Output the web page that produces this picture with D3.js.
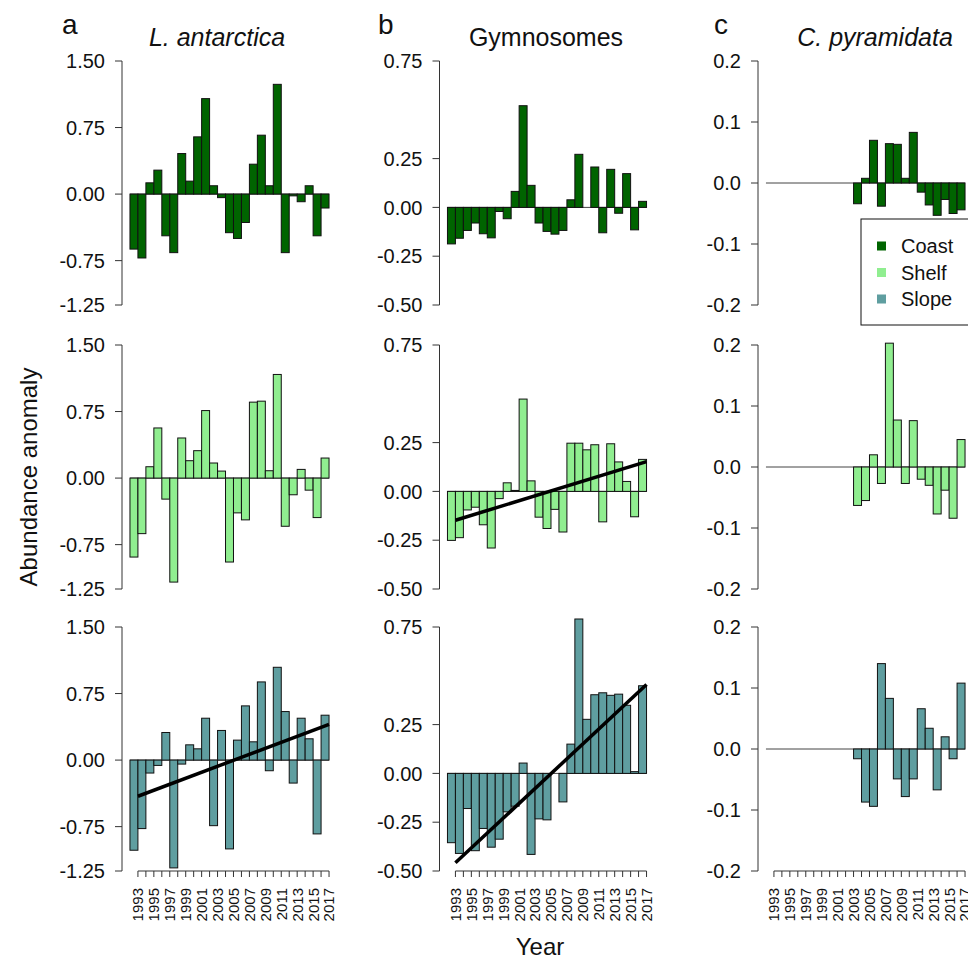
<!DOCTYPE html>
<html>
<head>
<meta charset="utf-8">
<script src="https://cdn.jsdelivr.net/npm/d3@7"></script>
<style>
  html, body { margin: 0; padding: 0; background: #fff; }
  svg { display: block; font-family: "Liberation Sans", Arial, Helvetica, sans-serif; }
</style>
</head>
<body>
<svg id="chart" width="968" height="961"></svg>
<script>
// ---------------- DATA ----------------
const years = [1993,1994,1995,1996,1997,1998,1999,2000,2001,2002,2003,2004,2005,
               2006,2007,2008,2009,2010,2011,2012,2013,2014,2015,2016,2017];
const xTickLabels = ["1993","1995","1997","1999","2001","2003","2005","2007","2009","2011","2013","2015","2017"];

const species = ["L. antarctica", "Gymnosomes", "C. pyramidata"];
const speciesItalic = [true, false, true];
const panelLetters = ["a", "b", "c"];
const regions = ["Coast", "Shelf", "Slope"];
const regionColors = ["#006400", "#90EE90", "#5F9EA0"];

const yDomainLant = [-1.25, 1.5];
const yDomainGym = [-0.5, 0.75];
const yDomainCpyr = [-0.2, 0.2];
const yTicksLant = [1.5, 0.75, 0, -0.75, -1.25];
const yTicksGym = [0.75, 0.25, 0, -0.25, -0.5];
const yTicksCpyr = [0.2, 0.1, 0, -0.1, -0.2];
const yTickLabelsLant = ["1.50", "0.75", "0.00", "-0.75", "-1.25"];
const yTickLabelsGym = ["0.75", "0.25", "0.00", "-0.25", "-0.50"];
const yTickLabelsCpyr = ["0.2", "0.1", "0.0", "-0.1", "-0.2"];

const lantCoast = [-0.62,-0.72,0.127,0.27,-0.47,-0.66,0.457,0.146,0.645,1.076,0.094,-0.04,-0.435,
                   -0.50,-0.32,0.337,0.664,0.094,1.237,-0.66,-0.02,-0.086,0.094,-0.47,-0.157];
const lantShelf = [-0.89,-0.626,0.128,0.565,-0.237,-1.172,0.452,0.196,0.309,0.761,0.17,0.079,-0.946,
                   -0.392,-0.471,0.856,0.867,0.083,1.168,-0.543,-0.188,0.098,-0.136,-0.445,0.226];
const lantSlope = [-1.016,-0.772,-0.146,-0.06,0.311,-1.215,-0.045,0.172,0.127,0.472,-0.739,0.334,-1.001,
                   0.225,0.611,0.206,0.881,-0.12,1.046,0.547,-0.259,0.472,0.24,-0.832,0.506];

const gymCoast = [-0.187,-0.158,-0.118,-0.08,-0.135,-0.156,-0.021,-0.058,0.082,0.521,0.113,-0.08,-0.123,
                  -0.137,-0.118,0.039,0.272,0.0,0.207,-0.13,0.195,-0.03,0.173,-0.115,0.031];
const gymShelf = [-0.251,-0.237,-0.095,-0.081,-0.171,-0.29,-0.037,0.044,0.005,0.473,0.054,-0.132,-0.19,
                  -0.092,-0.208,0.247,0.247,0.213,0.239,-0.156,0.244,0.151,0.051,-0.13,0.164];
const gymSlope = [-0.355,-0.41,-0.18,-0.396,-0.282,-0.378,-0.337,-0.197,-0.168,0.053,-0.415,-0.233,-0.238,
                  0.0,-0.146,0.15,0.791,0.277,0.403,0.413,0.40,0.406,0.349,0.009,0.449];

const cpyrCoast = [0,0,0,0,0,0,0,0,0,0,0,-0.034,0.0077,0.07,-0.038,0.0645,0.0634,0.0077,0.083,
                   -0.015,-0.036,-0.053,-0.027,-0.05,-0.044];
const cpyrShelf = [0,0,0,0,0,0,0,0,0,0,0,-0.063,-0.055,0.02,-0.027,0.203,0.077,-0.027,0.076,
                   -0.02,-0.03,-0.077,-0.038,-0.084,0.045];
const cpyrSlope = [0,0,0,0,0,0,0,0,0,0,0,-0.016,-0.087,-0.094,0.14,0.083,-0.049,-0.078,-0.049,
                   0.066,0.034,-0.067,0.02,-0.016,0.108];

// which panels show a linear trend (row = region, col = species)
const trendPanels = [[2,0],[1,1],[2,1]];

// ---------------- LAYOUT ----------------
const svg = d3.select("#chart");
svg.append("rect").attr("width", 968).attr("height", 961).attr("fill", "#fff");

const colLeft = [122, 439.5, 758];
const plotW = 215;
const rowTop = [61, 345, 627];
const plotH = 244;
const axisColor = "#333";

const seriesGrid = [
  [lantCoast, gymCoast, cpyrCoast],
  [lantShelf, gymShelf, cpyrShelf],
  [lantSlope, gymSlope, cpyrSlope]
];
const yDomains = [yDomainLant, yDomainGym, yDomainCpyr];
const yTicks = [yTicksLant, yTicksGym, yTicksCpyr];
const yTickLabels = [yTickLabelsLant, yTickLabelsGym, yTickLabelsCpyr];

function linFit(vals) {
  const xs = vals.map((d, i) => i + 1);
  const mx = d3.mean(xs), my = d3.mean(vals);
  let sxy = 0, sxx = 0;
  xs.forEach((x, i) => { sxy += (x - mx) * (vals[i] - my); sxx += (x - mx) * (x - mx); });
  const b = sxy / sxx;
  return { a: my - b * mx, b: b };
}

for (let c = 0; c < 3; c++) {
  for (let r = 0; r < 3; r++) {
    const vals = seriesGrid[r][c];
    const L = colLeft[c], T = rowTop[r];
    const x = d3.scaleLinear().domain([-1, 26]).range([L, L + plotW]);
    const y = d3.scaleLinear().domain(yDomains[c]).range([T + plotH, T]);
    const g = svg.append("g");

    // zero line across bar range
    g.append("line")
      .attr("x1", x(0)).attr("x2", x(vals.length))
      .attr("y1", y(0)).attr("y2", y(0))
      .attr("stroke", "#444").attr("stroke-width", 1);

    // bars
    g.selectAll("rect.bar").data(vals).enter().append("rect")
      .attr("class", "bar")
      .attr("x", (d, i) => x(i))
      .attr("width", (d, i) => x(i + 1) - x(i))
      .attr("y", d => y(Math.max(0, d)))
      .attr("height", d => Math.abs(y(d) - y(0)))
      .attr("fill", regionColors[r])
      .attr("stroke", "#111")
      .attr("stroke-width", 1);

    // y axis (R style)
    const ya = svg.append("g");
    const tks = yTicks[c];
    ya.append("line")
      .attr("x1", L).attr("x2", L)
      .attr("y1", y(d3.max(tks))).attr("y2", y(d3.min(tks)))
      .attr("stroke", axisColor).attr("stroke-width", 1);
    tks.forEach((t, i) => {
      ya.append("line").attr("x1", L - 7).attr("x2", L)
        .attr("y1", y(t)).attr("y2", y(t))
        .attr("stroke", axisColor).attr("stroke-width", 1);
      ya.append("text").attr("x", L - 17).attr("y", y(t))
        .attr("dy", "0.36em").attr("text-anchor", "end")
        .attr("font-size", 20).attr("fill", "#111")
        .text(yTickLabels[c][i]);
    });

    // trend line
    if (trendPanels.some(p => p[0] === r && p[1] === c)) {
      const f = linFit(vals);
      g.append("line")
        .attr("x1", x(1)).attr("y1", y(f.a + f.b * 1))
        .attr("x2", x(vals.length)).attr("y2", y(f.a + f.b * vals.length))
        .attr("stroke", "#000").attr("stroke-width", 3.5)
        .attr("stroke-linecap", "butt");
    }

    // x axis on bottom row
    if (r === 2) {
      const xa = svg.append("g");
      const by = T + plotH;
      xa.append("line").attr("x1", x(1)).attr("x2", x(years.length))
        .attr("y1", by).attr("y2", by).attr("stroke", axisColor).attr("stroke-width", 1);
      years.forEach((yr, i) => {
        xa.append("line").attr("x1", x(i + 1)).attr("x2", x(i + 1))
          .attr("y1", by).attr("y2", by + 6)
          .attr("stroke", axisColor).attr("stroke-width", 1);
        const lab = String(yr);
        if (xTickLabels.includes(lab)) {
          xa.append("text")
            .attr("transform", `translate(${x(i + 1)},${by + 17}) rotate(-90)`)
            .attr("dy", "0.36em").attr("text-anchor", "end")
            .attr("font-size", 15).attr("fill", "#111")
            .text(lab);
        }
      });
    }
  }
}

// panel letters and titles
const letterX = [62, 378, 714];
const titleCX = [217, 546, 875];
panelLetters.forEach((l, i) => {
  svg.append("text").attr("x", letterX[i]).attr("y", 34)
    .attr("font-size", 28).attr("fill", "#111").text(l);
  svg.append("text").attr("x", titleCX[i]).attr("y", 46)
    .attr("text-anchor", "middle").attr("font-size", 25).attr("fill", "#111")
    .attr("font-style", speciesItalic[i] ? "italic" : "normal")
    .text(species[i]);
});

// axis titles
svg.append("text")
  .attr("transform", "translate(37,477) rotate(-90)")
  .attr("text-anchor", "middle").attr("font-size", 24).attr("fill", "#111")
  .text("Abundance anomaly");
svg.append("text").attr("x", 540).attr("y", 955)
  .attr("text-anchor", "middle").attr("font-size", 24).attr("fill", "#111")
  .text("Year");

// legend
const lg = svg.append("g");
lg.append("rect").attr("x", 861).attr("y", 219).attr("width", 125).attr("height", 106)
  .attr("fill", "#fff").attr("stroke", "#111").attr("stroke-width", 1);
regions.forEach((reg, i) => {
  const cy = 246 + i * 26.5;
  lg.append("rect").attr("x", 877).attr("y", cy - 4.5).attr("width", 9).attr("height", 9)
    .attr("fill", regionColors[i]);
  lg.append("text").attr("x", 901).attr("y", cy).attr("dy", "0.36em")
    .attr("font-size", 20).attr("fill", "#111").text(reg);
});
</script>
</body>
</html>
